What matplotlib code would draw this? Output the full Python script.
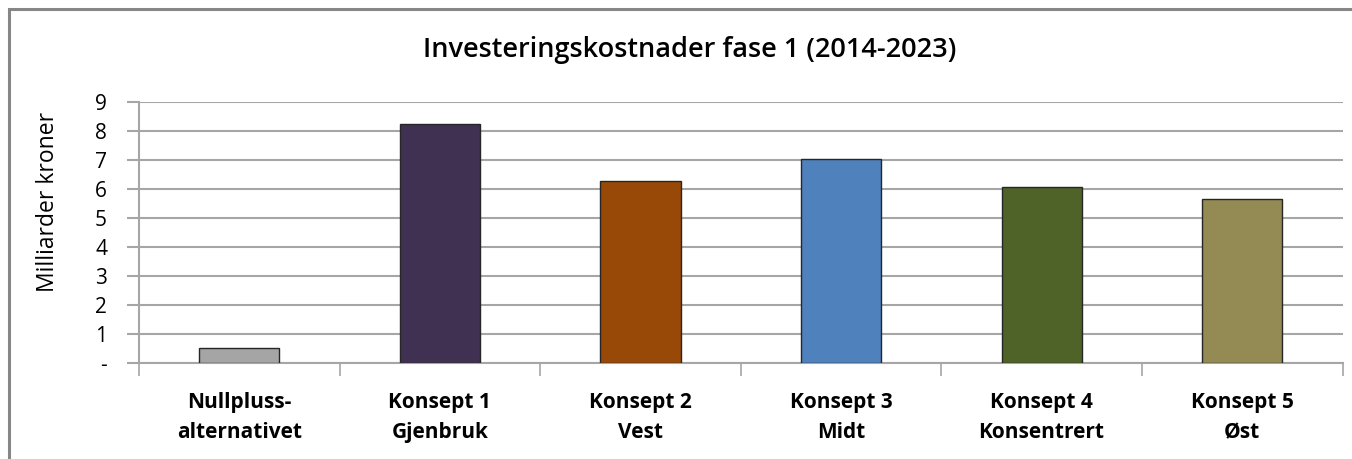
import matplotlib
matplotlib.use("Agg")
import matplotlib.pyplot as plt
from matplotlib.patches import Rectangle
from matplotlib.ticker import FixedLocator

categories = ["Nullpluss-\nalternativet", "Konsept 1\nGjenbruk", "Konsept 2\nVest",
              "Konsept 3\nMidt", "Konsept 4\nKonsentrert", "Konsept 5\nØst"]
values = [0.52, 8.26, 6.30, 7.06, 6.08, 5.68]
colors = ["#a5a5a5", "#403152", "#984807", "#4f81bd", "#4f6228", "#948a54"]
ytick_labels = ["-", "1", "2", "3", "4", "5", "6", "7", "8", "9"]

plt.rcParams['font.family'] = ['Open Sans', 'DejaVu Sans']

fig = plt.figure(figsize=(13.52, 4.59), dpi=100)
ax = fig.add_axes([139 / 1352, 1 - 363.3 / 459, (1342.5 - 139) / 1352, (363.3 - 102.3) / 459])

# outer chart frame (cut off at right and bottom like the reference)
fig.patches.append(Rectangle((8.5 / 1352, -0.1), 1.2, 1.1 - 9.5 / 459,
                             transform=fig.transFigure, fill=False,
                             edgecolor="#868686", linewidth=2.2))

x = range(len(categories))
ax.bar(x, values, width=0.4, color=colors, edgecolor="#262626", linewidth=1.0, zorder=3)

ax.set_xlim(-0.5, len(categories) - 0.5)
ax.set_ylim(0, 9)
ax.set_yticks(range(10))
ax.set_yticklabels(ytick_labels, fontsize=15)
ax.yaxis.grid(True, color="#a6a6a6", linewidth=1.5, zorder=0)
ax.set_axisbelow(True)

ax.set_xticks(list(x))
ax.set_xticklabels(categories, fontsize=15, fontweight="bold", linespacing=1.55)
ax.tick_params(axis="x", which="major", length=0, pad=21)
ax.xaxis.set_minor_locator(FixedLocator([i - 0.5 for i in range(len(categories) + 1)]))
ax.tick_params(axis="x", which="minor", length=9, color="#a6a6a6", width=1.2)
ax.tick_params(axis="y", length=9, color="#a6a6a6", width=1.5, pad=14)

for s in ["top", "right"]:
    ax.spines[s].set_visible(False)
for s in ["left", "bottom"]:
    ax.spines[s].set_color("#a6a6a6")
    ax.spines[s].set_linewidth(1.5)

ax.set_ylabel("Milliarder kroner", fontsize=16.5)
ax.yaxis.set_label_coords(-(139 - 60) / (1342.5 - 139), 0.618)
fig.text(690 / 1352, 1 - 50 / 459, "Investeringskostnader fase 1 (2014-2023)",
         ha="center", va="center", fontsize=19.5, fontweight="semibold")

fig.savefig("out.png", dpi=100)
